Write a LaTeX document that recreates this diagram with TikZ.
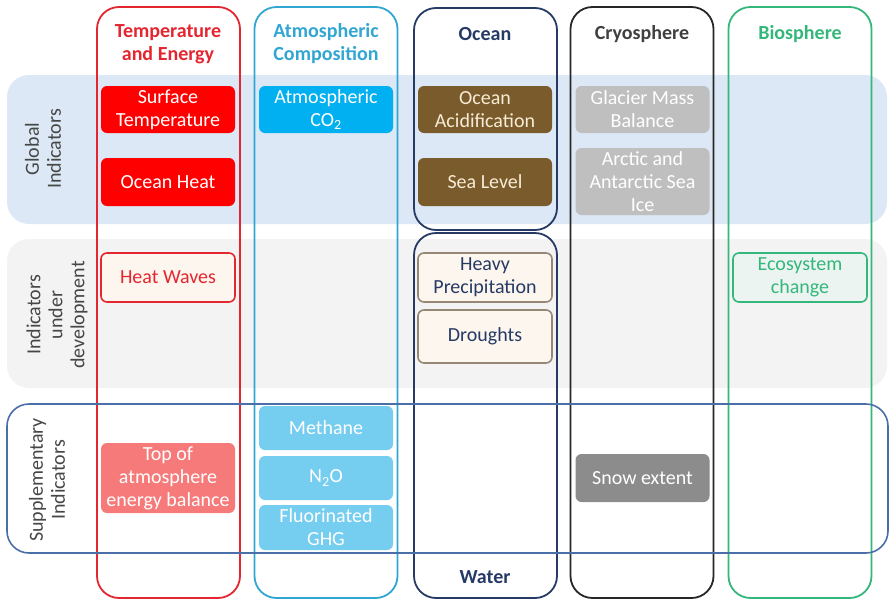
\documentclass[tikz,border=0pt]{standalone}
\usepackage{fontspec}
\setmainfont{Carlito}
\definecolor{tempred}{RGB}{228,38,48}
\definecolor{atmblue}{RGB}{49,166,210}
\definecolor{oceannavy}{RGB}{38,58,102}
\definecolor{cryodark}{RGB}{38,38,38}
\definecolor{cryotitle}{RGB}{64,64,64}
\definecolor{biogreen}{RGB}{52,183,122}
\definecolor{globalband}{RGB}{220,232,245}
\definecolor{devband}{RGB}{243,243,243}
\definecolor{suppline}{RGB}{74,110,168}
\definecolor{labelgray}{RGB}{70,70,70}
\definecolor{co2fill}{RGB}{0,176,240}
\definecolor{ghgfill}{RGB}{117,205,240}
\definecolor{brownfill}{RGB}{122,91,44}
\definecolor{browntext}{RGB}{248,236,214}
\definecolor{lightgray}{RGB}{191,191,191}
\definecolor{snowgray}{RGB}{140,140,140}
\definecolor{toafill}{RGB}{247,122,122}
\definecolor{paleorange}{RGB}{253,246,238}
\definecolor{tanline}{RGB}{150,135,118}
\definecolor{paleblue}{RGB}{236,244,242}
\tikzset{
  band/.style={rounded corners=22pt, minimum width=880pt, minimum height=149pt, inner sep=0pt},
  column/.style={rounded corners=22pt, line width=1.8pt, minimum width=143pt, inner sep=0pt},
  coltitle/.style={font=\fontsize{20}{23}\selectfont\bfseries, align=center},
  rowlabel/.style={font=\fontsize{20}{22}\selectfont, text=labelgray, align=center, rotate=90},
  ind/.style={rounded corners=6pt, minimum width=134pt, inner sep=0pt, align=center,
    font=\fontsize{20}{23}\selectfont, text=white},
  outlined/.style={ind, line width=1.6pt},
}
\begin{document}
\begin{tikzpicture}[x=1pt, y=-1pt]
\useasboundingbox (0,0) rectangle (889,600);
% row bands
\node[band, fill=globalband] (bglobal) at (447,149.5) {};
\node[band, fill=devband] (bdev) at (447,313.5) {};
% columns
\node[column, draw=tempred, minimum height=591pt] (ctemp) at (168.5,302.5) {};
\node[column, draw=atmblue, minimum height=591pt] (catm) at (326,302.5) {};
\node[column, draw=oceannavy, minimum height=222pt] (cocean) at (485.5,119) {};
\node[column, draw=oceannavy, minimum height=365pt] (cwater) at (485.5,415.5) {};
\node[column, draw=cryodark, minimum height=591pt] (ccryo) at (642,302.5) {};
\node[column, draw=biogreen, minimum height=591pt] (cbio) at (800,302.5) {};
% supplementary band outline
\node[band, draw=suppline, line width=1.6pt, minimum width=881pt] (bsupp) at (447.5,478.5) {};
% column titles
\node[coltitle, text=tempred] (ttemp) at (168,44) {Temperature\\and Energy};
\node[coltitle, text=atmblue] (tatm) at (326,44) {Atmospheric\\Composition};
\node[coltitle, text=oceannavy] (tocean) at (485,34) {Ocean};
\node[coltitle, text=cryotitle] (tcryo) at (642,34) {Cryosphere};
\node[coltitle, text=biogreen] (tbio) at (800,34) {Biosphere};
\node[coltitle, text=oceannavy] (twater) at (485,577) {Water};
% row labels
\node[rowlabel] (lglobal) at (43,149) {Global\\Indicators};
\node[rowlabel] (ldev) at (57,315) {Indicators\\under\\development};
\node[rowlabel] (lsupp) at (47,480) {Supplementary\\Indicators};
% global indicators
\node[ind, fill=red, minimum height=47pt] (st) at (168,109.5) {Surface\\Temperature};
\node[ind, fill=red, minimum height=48pt] (oh) at (168,182) {Ocean Heat};
\node[ind, fill=co2fill, minimum height=47pt] (co2) at (326,109.5) {Atmospheric\\CO\textsubscript{2}};
\node[ind, fill=brownfill, text=browntext, minimum height=47pt] (oa) at (485,109.5) {Ocean\\Acidification};
\node[ind, fill=brownfill, text=browntext, minimum height=48pt] (sl) at (485,182) {Sea Level};
\node[ind, fill=lightgray, minimum height=47pt] (gmb) at (642.5,109.5) {Glacier Mass\\Balance};
\node[ind, fill=lightgray, minimum height=67pt] (asi) at (642.5,181.5) {Arctic and\\Antarctic Sea\\Ice};
% indicators under development
\node[outlined, draw=tempred, fill=paleorange, text=tempred, minimum height=49pt] (hw) at (168,277.5) {Heat Waves};
\node[outlined, draw=tanline, fill=paleorange, text=oceannavy, minimum height=49pt] (hp) at (485,277.5) {Heavy\\Precipitation};
\node[outlined, draw=tanline, fill=paleorange, text=oceannavy, minimum height=53pt] (dr) at (485,336.5) {Droughts};
\node[outlined, draw=biogreen, fill=paleblue, text=biogreen, minimum height=49pt] (eco) at (800,277.5) {Ecosystem\\change};
% supplementary indicators
\node[ind, fill=toafill, minimum height=70pt] (toa) at (168,478) {Top of\\atmosphere\\energy balance};
\node[ind, fill=ghgfill, minimum height=44pt] (meth) at (326,428) {Methane};
\node[ind, fill=ghgfill, minimum height=44pt] (n2o) at (326,478) {N\textsubscript{2}O};
\node[ind, fill=ghgfill, minimum height=45pt] (fghg) at (326,527.5) {Fluorinated\\GHG};
\node[ind, fill=snowgray, minimum height=48pt] (snow) at (642.5,478) {Snow extent};
\end{tikzpicture}
\end{document}
